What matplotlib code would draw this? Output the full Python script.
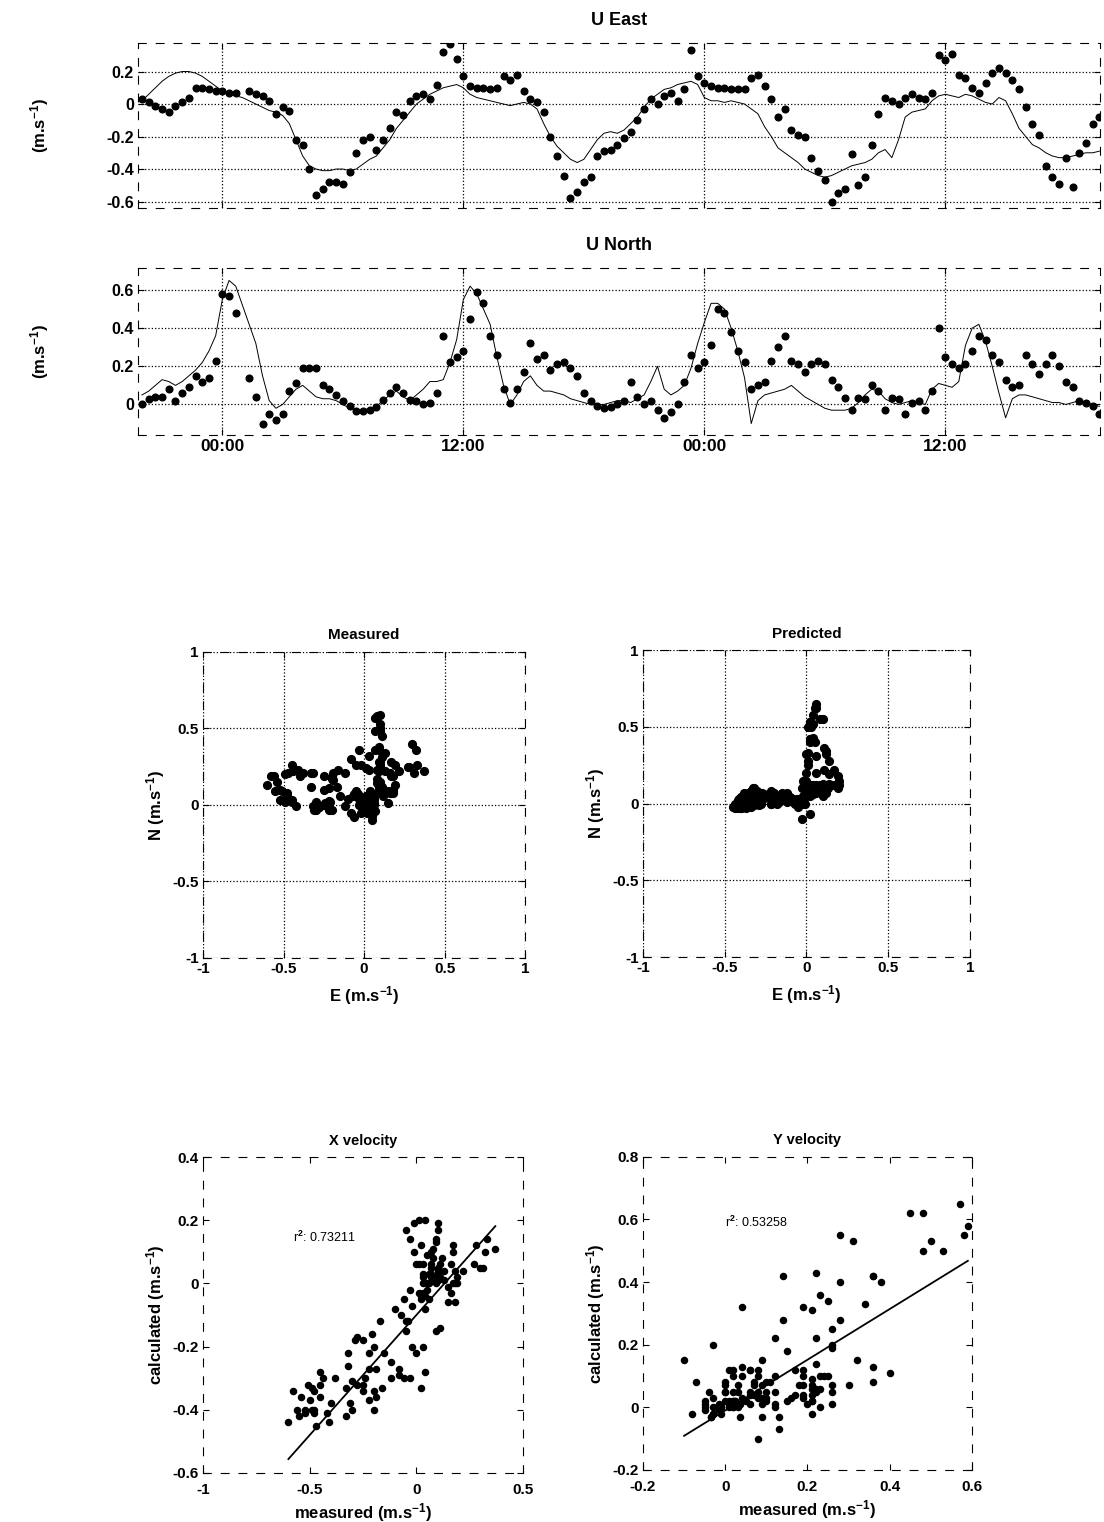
import numpy as np
import matplotlib
matplotlib.use('Agg')
import matplotlib.pyplot as plt
from matplotlib.ticker import FuncFormatter

plt.rcParams['font.family'] = ['Liberation Sans', 'DejaVu Sans']
plt.rcParams['font.weight'] = 'bold'
plt.rcParams['axes.labelweight'] = 'bold'
plt.rcParams['axes.titleweight'] = 'bold'
plt.rcParams['axes.unicode_minus'] = False
plt.rcParams['mathtext.fontset'] = 'custom'
plt.rcParams['mathtext.rm'] = 'Liberation Sans:bold'
plt.rcParams['mathtext.it'] = 'Liberation Sans:bold'
plt.rcParams['mathtext.bf'] = 'Liberation Sans:bold'

nan = np.nan

# velocities every 20 minutes, starting 4 h before the first midnight (m/s)
east_meas = [
    0.03, 0.01, -0.01, -0.03, -0.05, -0.01, 0.01, 0.04, 0.10, 0.10, 0.09, 0.08,
    0.08, 0.07, 0.07, nan, 0.08, 0.06, 0.05, 0.02, -0.06, -0.02, -0.04, -0.22,
    -0.25, -0.40, -0.56, -0.52, -0.48, -0.48, -0.49, -0.42, -0.30, -0.22, -0.20, -0.28,
    -0.22, -0.15, -0.05, -0.07, 0.02, 0.05, 0.06, 0.03, 0.12, 0.32, 0.37, 0.28,
    0.17, 0.11, 0.10, 0.10, 0.09, 0.10, 0.17, 0.15, 0.18, 0.08, 0.03, 0.01,
    -0.05, -0.20, -0.32, -0.44, -0.58, -0.54, -0.48, -0.45, -0.32, -0.29, -0.28, -0.25,
    -0.21, -0.17, -0.10, -0.03, 0.03, 0.00, 0.05, 0.07, 0.02, 0.09, 0.33, 0.17,
    0.13, 0.11, 0.10, 0.10, 0.09, 0.09, 0.09, 0.16, 0.18, 0.11, 0.03, -0.08,
    -0.03, -0.16, -0.19, -0.20, -0.33, -0.41, -0.47, -0.60, -0.55, -0.52, -0.31, -0.50,
    -0.45, -0.25, -0.06, 0.04, 0.02, 0.00, 0.04, 0.06, 0.04, 0.03, 0.07, 0.30,
    0.27, 0.31, 0.18, 0.16, 0.10, 0.07, 0.13, 0.19, 0.22, 0.19, 0.15, 0.09,
    -0.02, -0.12, -0.19, -0.38, -0.45, -0.49, -0.33, -0.51, -0.30, -0.24, -0.12, -0.08,
]
east_pred = [
    0.02, 0.06, 0.10, 0.14, 0.17, 0.19, 0.20, 0.20, 0.19, 0.17, 0.14, 0.11,
    0.08, 0.06, 0.05, 0.04, 0.02, 0.00, -0.02, -0.04, -0.05, -0.07, -0.12, -0.22,
    -0.32, -0.38, -0.40, -0.41, -0.41, -0.40, -0.40, -0.41, -0.40, -0.37, -0.34, -0.32,
    -0.27, -0.22, -0.15, -0.10, -0.05, 0.00, 0.03, 0.06, 0.08, 0.10, 0.11, 0.12,
    0.10, 0.06, 0.04, 0.03, 0.02, 0.01, 0.00, -0.01, 0.00, 0.01, 0.00, -0.03,
    -0.12, -0.20, -0.26, -0.30, -0.34, -0.36, -0.34, -0.28, -0.22, -0.18, -0.17, -0.18,
    -0.16, -0.12, -0.08, -0.02, 0.03, 0.06, 0.09, 0.10, 0.12, 0.13, 0.14, 0.12,
    0.04, 0.02, 0.02, 0.01, 0.02, 0.01, 0.00, -0.03, -0.06, -0.14, -0.20, -0.27,
    -0.30, -0.33, -0.36, -0.40, -0.42, -0.44, -0.45, -0.44, -0.42, -0.40, -0.38, -0.37,
    -0.36, -0.34, -0.30, -0.28, -0.33, -0.22, -0.08, -0.05, -0.04, -0.03, 0.02, 0.05,
    0.06, 0.05, 0.04, 0.06, 0.05, 0.03, 0.01, 0.00, 0.04, 0.02, -0.06, -0.15,
    -0.20, -0.25, -0.27, -0.30, -0.32, -0.33, -0.33, -0.32, -0.31, -0.30, -0.30, -0.29,
]
north_meas = [
    0.00, 0.03, 0.04, 0.04, 0.08, 0.02, 0.06, 0.09, 0.15, 0.12, 0.14, 0.23,
    0.58, 0.57, 0.48, nan, 0.14, 0.04, -0.10, -0.05, -0.08, -0.05, 0.07, 0.11,
    0.19, 0.19, 0.19, 0.10, 0.08, 0.05, 0.02, -0.01, -0.035, -0.035, -0.03, -0.015,
    0.025, 0.06, 0.09, 0.06, 0.025, 0.02, 0.00, 0.01, 0.06, 0.36, 0.22, 0.25,
    0.28, 0.45, 0.59, 0.53, 0.36, 0.26, 0.08, 0.01, 0.08, 0.17, 0.32, 0.24,
    0.26, 0.18, 0.21, 0.22, 0.19, 0.15, 0.06, 0.02, -0.01, -0.02, -0.015, 0.00,
    0.02, 0.12, 0.04, 0.00, 0.02, -0.03, -0.07, -0.04, 0.00, 0.12, 0.26, 0.19,
    0.22, 0.31, 0.50, 0.48, 0.38, 0.28, 0.22, 0.08, 0.10, 0.12, 0.23, 0.30,
    0.36, 0.23, 0.21, 0.17, 0.21, 0.23, 0.21, 0.13, 0.09, 0.035, -0.03, 0.035,
    0.03, 0.10, 0.07, -0.03, 0.035, 0.03, -0.05, 0.01, 0.02, -0.03, 0.07, 0.40,
    0.25, 0.21, 0.19, 0.21, 0.28, 0.36, 0.34, 0.26, 0.22, 0.13, 0.09, 0.10,
    0.26, 0.21, 0.16, 0.21, 0.26, 0.20, 0.12, 0.09, 0.02, 0.01, -0.01, -0.05,
]
north_pred = [
    0.05, 0.07, 0.10, 0.13, 0.12, 0.10, 0.12, 0.15, 0.18, 0.22, 0.28, 0.36,
    0.55, 0.65, 0.62, 0.52, 0.42, 0.32, 0.15, 0.02, -0.02, 0.00, 0.04, 0.08,
    0.10, 0.07, 0.04, 0.03, 0.03, 0.02, 0.00, -0.02, -0.03, -0.03, -0.02, -0.01,
    0.02, 0.05, 0.07, 0.04, 0.02, 0.05, 0.08, 0.12, 0.12, 0.13, 0.22, 0.34,
    0.55, 0.62, 0.58, 0.50, 0.42, 0.25, 0.10, 0.00, 0.05, 0.12, 0.15, 0.10,
    0.07, 0.07, 0.06, 0.05, 0.03, 0.02, 0.01, 0.00, 0.00, 0.00, 0.01, 0.02,
    0.02, 0.01, 0.03, 0.05, 0.12, 0.20, 0.08, 0.05, 0.07, 0.10, 0.19, 0.32,
    0.43, 0.53, 0.53, 0.50, 0.40, 0.28, 0.14, -0.10, 0.02, 0.05, 0.06, 0.07,
    0.08, 0.10, 0.07, 0.04, 0.02, 0.00, -0.02, -0.03, -0.03, -0.03, -0.02, 0.01,
    0.05, 0.08, 0.07, 0.03, 0.01, 0.00, 0.01, 0.02, 0.01, 0.00, 0.08, 0.11,
    0.10, 0.09, 0.12, 0.31, 0.40, 0.42, 0.33, 0.20, 0.06, -0.07, 0.03, 0.05,
    0.05, 0.04, 0.03, 0.02, 0.01, 0.01, 0.00, 0.01, 0.02, 0.01, 0.00, -0.01,
]

time_ticks = [0, 12, 24, 36]
time_labels = ['00:00', '12:00', '00:00', '12:00']

# regression lines and r^2 as printed on the chart
x_fit = (0.76, -0.10)
y_fit = (0.81, -0.01)
x_r2 = 'r$^2$: 0.73211'
y_r2 = 'r$^2$: 0.53258'

east_meas = np.array(east_meas)
east_pred = np.array(east_pred)
north_meas = np.array(north_meas)
north_pred = np.array(north_pred)
time_h = -4 + np.arange(len(east_meas)) / 3.0

fmt = FuncFormatter(lambda v, p: '%g' % round(v, 3))


def style(ax, fs):
    # scanned look: broken frame
    for s in ax.spines.values():
        s.set_linestyle((0, (7, 9)))
        s.set_linewidth(0.8)
    ax.tick_params(direction='in', top=True, right=True, length=4, width=0.8,
                   labelsize=fs, pad=3)
    ax.xaxis.set_major_formatter(fmt)
    ax.yaxis.set_major_formatter(fmt)


fig = plt.figure(figsize=(11.04, 15.22), dpi=100)

# time series
ax1 = fig.add_axes([0.125, 0.8633, 0.8714, 0.1084])
ax2 = fig.add_axes([0.125, 0.7142, 0.8714, 0.1097])
for ax, meas, pred, title, ylim, yt in [
        (ax1, east_meas, east_pred, 'U East', (-0.64, 0.375), [-0.6, -0.4, -0.2, 0, 0.2]),
        (ax2, north_meas, north_pred, 'U North', (-0.16, 0.715), [0, 0.2, 0.4, 0.6])]:
    style(ax, 11.5)
    ax.plot(time_h, pred, color='black', lw=0.7)
    ax.plot(time_h, meas, 'o', color='black', ms=4.8, lw=0)
    ax.set_xlim(-4.2, 43.7)
    ax.set_ylim(*ylim)
    ax.set_yticks(yt)
    ax.set_xticks(time_ticks)
    ax.grid(True, linestyle=':', color='black', lw=0.9)
    ax.set_title(title, fontsize=13, pad=13)
    pos = ax.get_position()
    fig.text(0.036, pos.y0 + pos.height / 2, '(m.s$^{-1}$)', rotation=90,
             ha='center', va='center', fontsize=12)
ax1.set_xticklabels([])
ax2.set_xticklabels(time_labels, fontsize=12.5)

# hodographs
ax3 = fig.add_axes([0.1839, 0.3706, 0.2917, 0.2011])
ax4 = fig.add_axes([0.5824, 0.3712, 0.2962, 0.2017])
for ax, e, n, title in [(ax3, east_meas, north_meas, 'Measured'),
                        (ax4, east_pred, north_pred, 'Predicted')]:
    style(ax, 11)
    ax.plot(e, n, 'o', color='black', ms=5.6, lw=0)
    ax.set_xlim(-1, 1)
    ax.set_ylim(-1, 1)
    ax.set_xticks([-1, -0.5, 0, 0.5, 1])
    ax.set_yticks([-1, -0.5, 0, 0.5, 1])
    ax.grid(True, linestyle=':', color='black', lw=0.9)
    ax.set_title(title, fontsize=11, pad=9)
    ax.set_xlabel('E (m.s$^{-1}$)', fontsize=12, labelpad=6)
    ax.set_ylabel('N (m.s$^{-1}$)', fontsize=12, labelpad=4)

# measured vs calculated
ax5 = fig.add_axes([0.1839, 0.0322, 0.2899, 0.2076])
ax6 = fig.add_axes([0.5824, 0.0342, 0.298, 0.2057])
for ax, m, c, fit, r2, title, xlim, ylim, xt, yt, txy in [
        (ax5, east_meas, east_pred, x_fit, x_r2, 'X velocity', (-1, 0.5), (-0.6, 0.4),
         [-1, -0.5, 0, 0.5], [-0.6, -0.4, -0.2, 0, 0.2, 0.4], (-0.58, 0.145)),
        (ax6, north_meas, north_pred, y_fit, y_r2, 'Y velocity', (-0.2, 0.6), (-0.2, 0.8),
         [-0.2, 0, 0.2, 0.4, 0.6], [-0.2, 0, 0.2, 0.4, 0.6, 0.8], (0.0, 0.59))]:
    style(ax, 11)
    ax.tick_params(axis='x', pad=7)
    ax.plot(m, c, 'o', color='black', ms=4.4, lw=0)
    xs = np.array([np.nanmin(m), np.nanmax(m)])
    ax.plot(xs, fit[0] * xs + fit[1], color='black', lw=1.3)
    ax.text(txy[0], txy[1], r2, fontsize=9, fontweight='normal', va='center')
    ax.set_xlim(*xlim)
    ax.set_ylim(*ylim)
    ax.set_xticks(xt)
    ax.set_yticks(yt)
    ax.set_title(title, fontsize=10.5, pad=9)
    ax.set_xlabel('measured (m.s$^{-1}$)', fontsize=12, labelpad=3)
    ax.set_ylabel('calculated (m.s$^{-1}$)', fontsize=12, labelpad=4)

fig.savefig('out.png', dpi=100)
